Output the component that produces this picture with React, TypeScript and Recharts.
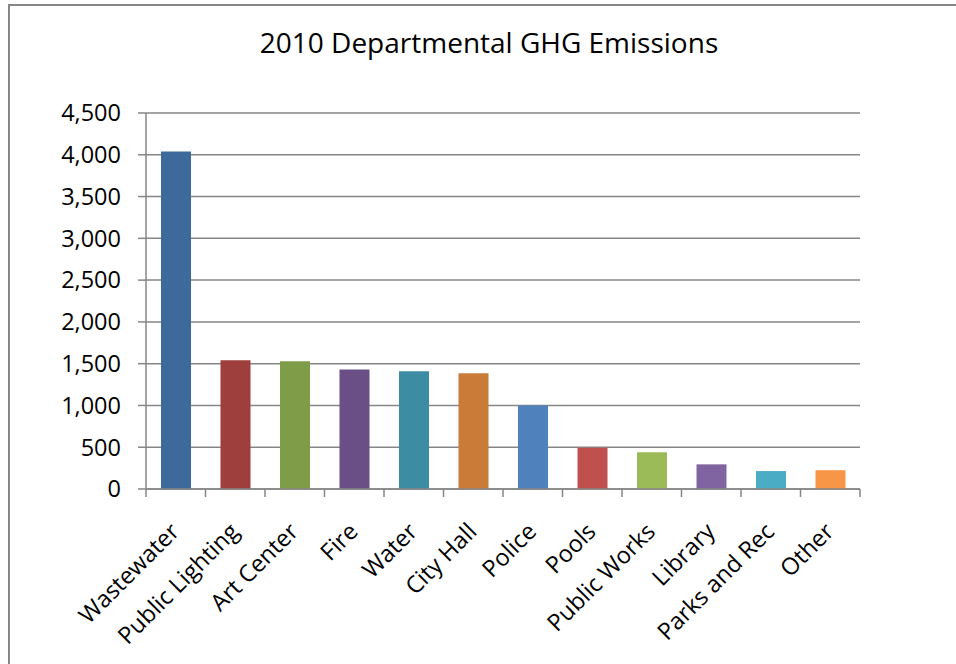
import React from 'react';
import { BarChart, Bar, XAxis, YAxis, CartesianGrid, Cell } from 'recharts';

const categories = [
  'Wastewater', 'Public Lighting', 'Art Center', 'Fire', 'Water', 'City Hall',
  'Police', 'Pools', 'Public Works', 'Library', 'Parks and Rec', 'Other',
];
const emissions = [4040, 1540, 1530, 1430, 1410, 1385, 1000, 495, 440, 295, 215, 225];
const barColors = [
  '#3E699B', '#9E3E3D', '#7F9C48', '#6A4F87', '#3C8DA3', '#CB7B38',
  '#4F81BD', '#C0504D', '#9BBB59', '#8064A2', '#4BACC6', '#F79646',
];
const yTicks = [0, 500, 1000, 1500, 2000, 2500, 3000, 3500, 4000, 4500];
const boundaryTicks = [0, 1, 2, 3, 4, 5, 6, 7, 8, 9, 10, 11, 12];

const data = categories.map((name, i) => ({ name, value: emissions[i], pos: i + 0.5 }));

const FONT = '"Open Sans", sans-serif';
const GRAY = '#868686';

const CatTick = (props: any) => {
  const { x, y, payload } = props;
  return (
    <g transform={`translate(${x + 5},${y + 43})`}>
      <text
        x={0}
        y={0}
        transform="rotate(-45)"
        textAnchor="end"
        fontFamily={FONT}
        fontSize={23.5}
        fill="#000"
      >
        {payload.value}
      </text>
    </g>
  );
};

export default function App() {
  return (
    <div style={{ position: 'absolute', left: 0, top: 0, width: 956, height: 664, overflow: 'hidden', background: '#fff' }}>
      <div
        style={{
          position: 'absolute', left: 8, top: 4, width: 1000, height: 700,
          borderLeft: `2px solid ${GRAY}`, borderTop: `2px solid ${GRAY}`,
        }}
      />
      <svg style={{ position: 'absolute', left: 0, top: 0 }} width={956} height={80}>
        <text x={489} y={53} textAnchor="middle" fontFamily={FONT} fontSize={28} fill="#000">
          2010 Departmental GHG Emissions
        </text>
      </svg>
      <div style={{ position: 'absolute', left: 0, top: 0 }}>
        <BarChart width={956} height={664} data={data} margin={{ top: 113, right: 96, bottom: 173, left: 0 }}>
          <CartesianGrid xAxisId="cat" vertical={false} stroke={GRAY} strokeWidth={1.5} />
          <XAxis
            xAxisId="bounds"
            type="number"
            dataKey="pos"
            domain={[0, 12]}
            allowDataOverflow
            ticks={boundaryTicks}
            interval={0}
            tickFormatter={() => ''}
            tick={{ fontSize: 1 }}
            tickSize={8}
            height={1}
            axisLine={{ stroke: GRAY, strokeWidth: 1.5 }}
            tickLine={{ stroke: GRAY, strokeWidth: 1.5 }}
          />
          <XAxis
            xAxisId="cat"
            dataKey="name"
            height={1}
            interval={0}
            tickLine={false}
            axisLine={false}
            tickSize={0}
            tickMargin={0}
            tick={<CatTick />}
          />
          <YAxis
            domain={[0, 4500]}
            ticks={yTicks}
            width={146}
            tickSize={8}
            tickMargin={17}
            interval={0}
            tickFormatter={(v: number) => v.toLocaleString('en-US')}
            axisLine={{ stroke: GRAY, strokeWidth: 1.5 }}
            tickLine={{ stroke: GRAY, strokeWidth: 1.5 }}
            tick={{ fill: '#000', fontSize: 23.5, fontFamily: FONT }}
          />
          <Bar xAxisId="cat" dataKey="value" barSize={30} isAnimationActive={false}>
            {data.map((d, i) => (
              <Cell key={d.name} fill={barColors[i]} />
            ))}
          </Bar>
        </BarChart>
      </div>
    </div>
  );
}
